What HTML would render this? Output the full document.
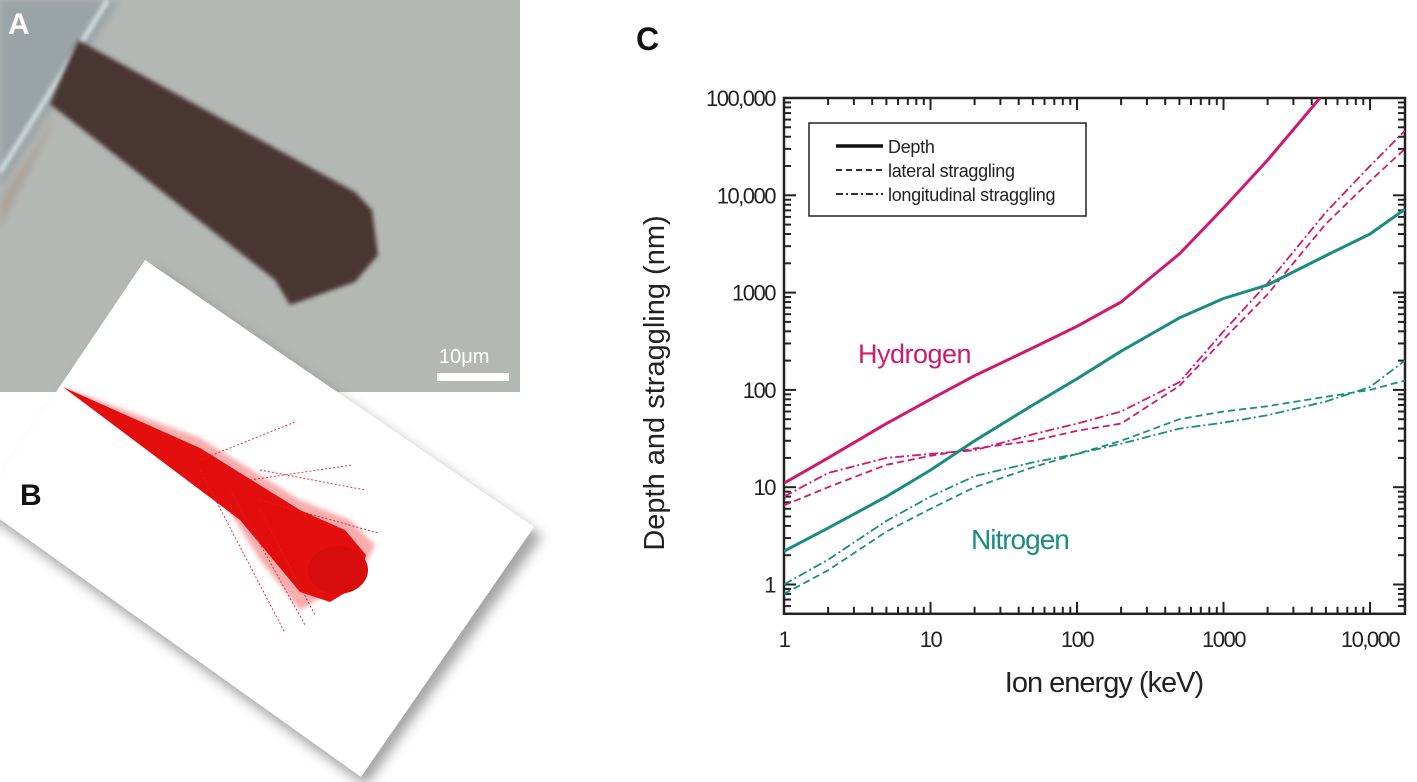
<!DOCTYPE html>
<html><head><meta charset="utf-8">
<style>
body{margin:0;background:#fff;width:1417px;height:782px;overflow:hidden;font-family:"Liberation Sans",sans-serif;}
svg{position:absolute;left:0;top:0;}
</style></head>
<body>
<svg width="1417" height="782" viewBox="0 0 1417 782">
<defs>
<filter id="blur4"><feGaussianBlur stdDeviation="4"/></filter>
<filter id="blur2"><feGaussianBlur stdDeviation="2"/></filter>
<filter id="shadow"><feGaussianBlur stdDeviation="6"/></filter>
</defs>
<g>
<rect x="0" y="0" width="520" height="392" fill="#b4b8b5"/>
<polygon points="0,0 120,0 0,190" fill="#9aa3a6" filter="url(#blur4)"/>
<line x1="108" y1="0" x2="0" y2="172" stroke="#dfe8ea" stroke-width="4" filter="url(#blur2)"/>
<polygon points="0,200 60,110 40,150 0,230" fill="#a08f80" opacity="0.5" filter="url(#blur4)"/>
<polygon points="78,40 355,192 372,210 378,255 355,282 290,305 275,280 50,104" fill="#4a3431" filter="url(#blur2)"/>
<text x="8" y="34" font-size="30" font-weight="bold" fill="#fff">A</text>
<text x="439" y="363" font-size="20" fill="#fff">10μm</text>
<rect x="437" y="373" width="72" height="8" fill="#fff"/>
</g>
<g>
<polygon points="152,268 542,536 366,786 -14,514" fill="#666" opacity="0.6" filter="url(#shadow)"/>
<polygon points="145,260 534,527 361,777 -20,505" fill="#fff"/>
<polygon points="63,387 200,438 300,500 350,520 375,545 360,575 300,610 260,560 210,480" fill="#f04848" opacity="0.45" filter="url(#blur2)"/>
<polygon points="63,387 200,448 300,510 345,530 366,555 358,585 330,602 300,592 240,520" fill="#e30f0f"/>
<ellipse cx="338" cy="570" rx="30" ry="24" fill="#d80c0c"/>
<g stroke="#e02020" stroke-width="0.9" stroke-dasharray="2,2" fill="none">
<line x1="200" y1="460" x2="295" y2="422"/><line x1="250" y1="480" x2="352" y2="465"/>
<line x1="260" y1="470" x2="365" y2="490"/><line x1="200" y1="470" x2="285" y2="633"/>
<line x1="230" y1="490" x2="305" y2="625"/><line x1="260" y1="510" x2="315" y2="615"/>
<line x1="260" y1="500" x2="378" y2="533"/>
</g>
<text x="20" y="505" font-size="30" font-weight="bold" fill="#111">B</text>
</g>
<text x="636" y="50" font-size="32" font-weight="bold" fill="#111">C</text>
<g id="chart"></g>
</svg>
<script>
const xTicks=[1,10,100,1000,10000];
const xTickLabels=["1","10","100","1000","10,000"];
const yTicks=[1,10,100,1000,10000,100000];
const yTickLabels=["1","10","100","1000","10,000","100,000"];
const energies=[1,2,5,10,20,50,100,200,500,1000,2000,5000,10000,17300];
const hDepthE=[1,2,5,10,20,50,100,200,500,1000,2000,4560];
const hDepth=[11,20,45,80,140,270,450,800,2500,7400,23000,100000];
const hLateral=[6.5,10,17,21,25,30,38,45,110,330,960,5100,14000,30000];
const hLongit=[8,14,20,22,24,35,45,60,120,400,1250,6700,20000,46000];
const nDepth=[2.2,3.8,8,15,30,70,130,250,550,870,1200,2400,4000,7200];
const nLateral=[0.8,1.4,3.5,6,10,16,22,30,50,60,68,85,100,125];
const nLongit=[1,1.8,4.5,8,13,18,22,28,40,46,55,76,107,200];
const X0=784,XD=146.5,XMAX=17330,YTOP=98,YD=97.3,YMAX=100000,YMIN=0.5;
const NS="http://www.w3.org/2000/svg";
const sx=v=>X0+XD*Math.log10(v);
const sy=v=>YTOP+YD*(Math.log10(YMAX)-Math.log10(v));
const g=document.getElementById('chart');
function mk(t,a){const e=document.createElementNS(NS,t);for(const k in a)e.setAttribute(k,a[k]);g.appendChild(e);return e;}
const L=sx(1),R=sx(XMAX),T=sy(YMAX),B=sy(YMIN);
const clip=document.createElementNS(NS,'clipPath');clip.id='pc';
const cr=document.createElementNS(NS,'rect');cr.setAttribute('x',L);cr.setAttribute('y',T);cr.setAttribute('width',R-L);cr.setAttribute('height',B-T);clip.appendChild(cr);g.appendChild(clip);
for(let d=1;d<=10000;d*=10)for(let m=1;m<10;m++){const v=d*m;if(v>XMAX)break;const x=sx(v);const len=m===1?12:7;
let t=mk('line',{x1:x,y1:B,x2:x,y2:B-len,stroke:'#222','stroke-width':2});
t=mk('line',{x1:x,y1:T,x2:x,y2:T+len,stroke:'#222','stroke-width':2});}
for(let d=0.1;d<=100000;d*=10)for(let m=1;m<10;m++){const v=d*m;if(v<YMIN-1e-9)continue;if(v>YMAX*1.001)break;const y=sy(v);const len=m===1?12:7;
let t=mk('line',{x1:L,y1:y,x2:L+len,y2:y,stroke:'#222','stroke-width':2});
t=mk('line',{x1:R,y1:y,x2:R-len,y2:y,stroke:'#222','stroke-width':2});}
xTicks.forEach((v,i)=>{const t=mk('text',{x:sx(v),y:B+33,'font-size':22,'text-anchor':'middle',fill:'#222','letter-spacing':'-1.5'});t.textContent=xTickLabels[i];
});
yTicks.forEach((v,i)=>{const t=mk('text',{x:L-9,y:sy(v)+8,'font-size':22,'text-anchor':'end',fill:'#222','letter-spacing':'-1.5'});t.textContent=yTickLabels[i];
});
let ax=mk('rect',{x:L,y:T,width:R-L,height:B-T,fill:'none',stroke:'#222','stroke-width':2.5});

let xt=mk('text',{x:1104,y:692,'font-size':29,'text-anchor':'middle',fill:'#222','letter-spacing':'-1'});xt.textContent='Ion energy (keV)';

let yt=mk('text',{x:0,y:0,'font-size':29,'text-anchor':'middle',fill:'#222',transform:'translate(664,383) rotate(-90)'});yt.textContent='Depth and straggling (nm)';

function series(xs,ys,color,dash,name){const d=xs.map((x,i)=>(i?'L':'M')+sx(x).toFixed(1)+','+sy(ys[i]).toFixed(1)).join(' ');
const p=mk('path',{d:d,fill:'none',stroke:color,'stroke-width':dash?1.8:3,'stroke-dasharray':dash||'none','clip-path':'url(#pc)','stroke-linejoin':'round'});
}
const PINK='#d0196e',TEAL='#1a8c82';
series(hDepthE,hDepth,PINK,null,'hydrogen-depth-line');
series(energies,hLateral,PINK,'7,4','hydrogen-lateral-line');
series(energies,hLongit,PINK,'9,3,2,3','hydrogen-longitudinal-line');
series(energies,nDepth,TEAL,null,'nitrogen-depth-line');
series(energies,nLateral,TEAL,'7,4','nitrogen-lateral-line');
series(energies,nLongit,TEAL,'9,3,2,3','nitrogen-longitudinal-line');
let hl=mk('text',{x:858,y:363,'font-size':27,fill:PINK,'letter-spacing':'-0.5'});hl.textContent='Hydrogen';
let nl=mk('text',{x:971,y:549,'font-size':28,fill:TEAL,'letter-spacing':'-1'});nl.textContent='Nitrogen';
let lb=mk('rect',{x:809,y:123,width:277,height:93,fill:'#fff',stroke:'#222','stroke-width':1.5});
const legNames=['Depth','lateral straggling','longitudinal straggling'];
const legDash=[null,'6,4','7,3,2,3'];
legNames.forEach((n,i)=>{const y=146+i*24;
const l=mk('line',{x1:836,y1:y,x2:883,y2:y,stroke:'#111','stroke-width':i?1.8:3.5,'stroke-dasharray':legDash[i]||'none'});

const t=mk('text',{x:888,y:y+7,'font-size':18,fill:'#222','letter-spacing':'-0.3'});t.textContent=n;
});
</script>
</body></html>
